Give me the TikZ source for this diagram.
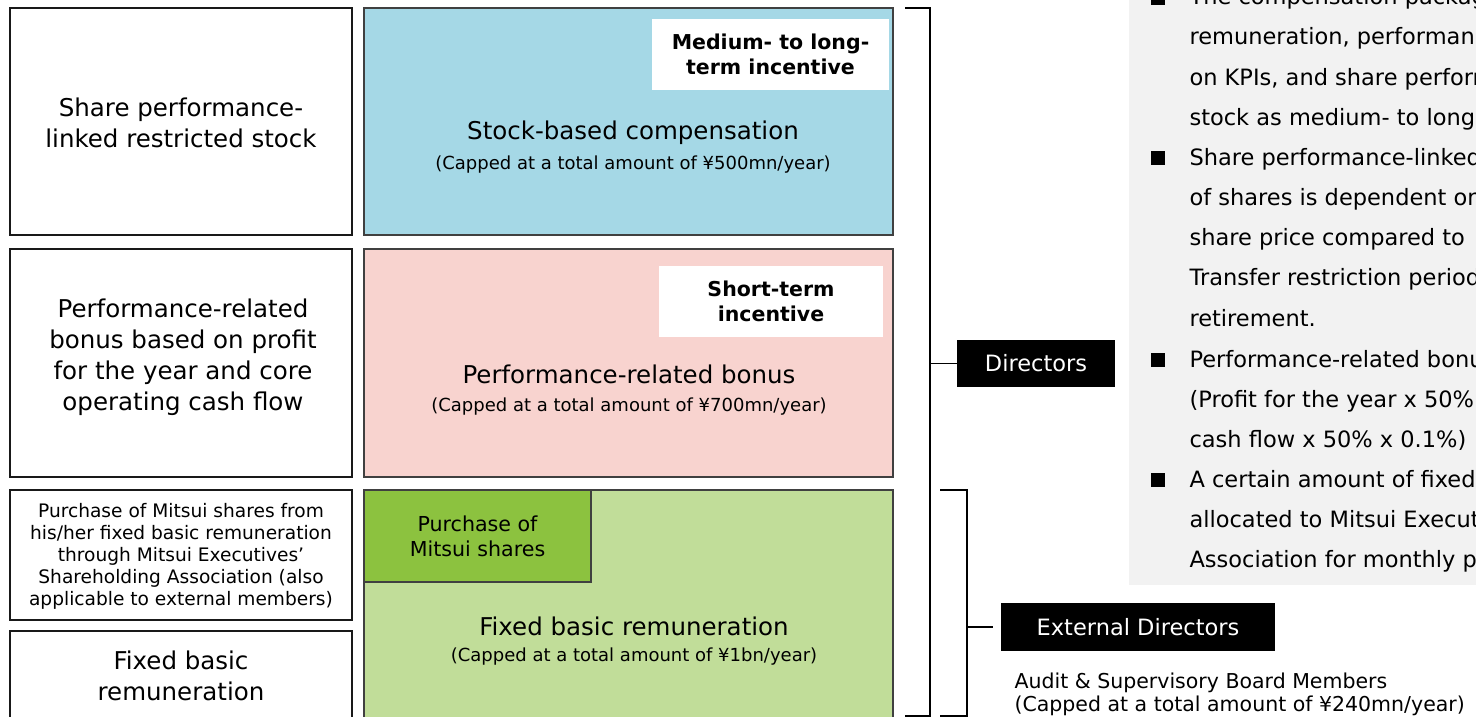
\documentclass[tikz,border=0pt]{standalone}
\usepackage{fontspec}
\setmainfont{DejaVu Sans}
\definecolor{stockblue}{HTML}{A5D8E6}
\definecolor{bonuspink}{HTML}{F8D3CF}
\definecolor{fixedgreen}{HTML}{C1DD99}
\definecolor{buygreen}{HTML}{8CC23F}
\definecolor{panelgrey}{HTML}{F2F2F2}
\newcommand{\fsz}[2]{\fontsize{#1}{#2}\selectfont}

\begin{document}
\begin{tikzpicture}[x=1pt, y=-1pt,
		lb/.style   = {rectangle, draw=black!90,	fill=white,	line width=1.5pt, inner sep=0},
		mb/.style   = {rectangle, draw=black!75,			line width=1.5pt, inner sep=0},
		wl/.style   = {rectangle, fill=white, inner sep=0, align=center, font=\bfseries\fsz{20.5}{25}},
		bl/.style   = {rectangle, fill=black, text=white, inner sep=0, font=\fsz{22.5}{27}},
		big/.style  = {align=center, font=\fsz{24.5}{31}},
		capd/.style = {font=\fsz{18}{22}},
		br/.style   = {line width=1.5pt, black},
		tx/.style   = {anchor=base west, font=\fsz{22.5}{40}},
		bul/.style  = {rectangle, fill=black, inner sep=0, minimum size=14},
		]
		\useasboundingbox (0,0) rectangle (1476,717);
		\clip (0,0) rectangle (1476,717);

		% === === Left column === ===
		\node[lb, minimum width=342, minimum height=227]	(lstock)	at	(181, 121.5)	{};
		\node[lb, minimum width=342, minimum height=228]	(lbonus)	at	(181, 363)		{};
		\node[lb, minimum width=342, minimum height=130]	(lbuy)		at	(181, 555)		{};
		\node[lb, minimum width=342, minimum height=130]	(lfixed)	at	(181, 696)		{};

		\node[big]	(lstockt)	at	(181, 123)	{Share performance-\\linked restricted stock};
		\node[big]	(lbonust)	at	(183, 357)	{Performance-related\\bonus based on profit\\for the year and core\\operating cash flow};
		\node[align=center, font=\fsz{18.6}{22}]	(lbuyt)	at	(181, 556)	{Purchase of Mitsui shares from\\his/her fixed basic remuneration\\through Mitsui Executives’\\Shareholding Association (also\\applicable to external members)};
		\node[big]	(lfixedt)	at	(181, 676)	{Fixed basic\\remuneration};

		% === === Middle column === ===
		\node[mb, fill=stockblue,  minimum width=529, minimum height=227]	(stock)	at	(628.5, 121.5)	{};
		\node[mb, fill=bonuspink,  minimum width=529, minimum height=228]	(bonus)	at	(628.5, 363)	{};
		\node[mb, fill=fixedgreen, minimum width=529, minimum height=250]	(fixed)	at	(628.5, 615)	{};

		\node[wl, minimum width=237, minimum height=71]	(midlong)	at	(770.5, 54.5)	{Medium- to long-\\term incentive};
		\node[wl, minimum width=224, minimum height=71]	(short)		at	(771, 301.5)	{Short-term\\incentive};
		\node[mb, fill=buygreen, minimum width=227, minimum height=92, align=center, font=\fsz{20.6}{25}]	(buy)	at	(477.5, 536)	{Purchase of\\Mitsui shares};

		\node[font=\fsz{24.5}{31}]	(stockt)	at	(633, 133)	{Stock-based compensation};
		\node[capd]					(stockc)	at	(633, 165)	{(Capped at a total amount of ¥500mn/year)};
		\node[font=\fsz{24.5}{31}]	(bonust)	at	(629, 374)	{Performance-related bonus};
		\node[capd]					(bonusc)	at	(629, 407)	{(Capped at a total amount of ¥700mn/year)};
		\node[font=\fsz{24.5}{31}]	(fixedt)	at	(634, 626)	{Fixed basic remuneration};
		\node[capd]					(fixedc)	at	(634, 657)	{(Capped at a total amount of ¥1bn/year)};

		% === === Brackets === ===
		\node[bl, minimum width=158, minimum height=47]	(dir)	at	(1036, 363.5)	{Directors};
		\node[bl, minimum width=274, minimum height=48]	(ext)	at	(1138, 627)		{External Directors};

		\coordinate	(dtop)	at	(905, 8);
		\coordinate	(dbot)	at	(905, 716);
		\coordinate	(etop)	at	(940, 490);
		\coordinate	(ebot)	at	(940, 716);

		\draw[br]	(dtop)	-|	(930, 716)	--	(dbot);
		\draw[br]	(930, 363.5)	--	(dir.west);
		\draw[br]	(etop)	-|	(967, 716)	--	(ebot);
		\draw[br]	(967, 627)	--	(993, 627);

		\node[anchor=west, align=left, font=\fsz{20.5}{23}]	(audit)	at	(1011, 694.5)	{Audit \& Supervisory Board Members\\(Capped at a total amount of ¥240mn/year)};

		% === === Notes panel === ===
		\fill[panelgrey]	(1129, -20)	rectangle	(1520, 585);

		\foreach \y/\t [count=\i] in {
			5/{The compensation package},
			45/{remuneration, performance},
			85/{on KPIs, and share performance},
			125/{stock as medium- to long-term},
			165/{Share performance-linked},
			205/{of shares is dependent on},
			245/{share price compared to},
			285/{Transfer restriction period},
			326/{retirement.},
			367/{Performance-related bonus},
			407/{(Profit for the year x 50\%},
			447/{cash flow x 50\% x 0.1\%)},
			487/{A certain amount of fixed},
			527/{allocated to Mitsui Executives’},
			567/{Association for monthly purchase}}
			\node[tx]	(n\i)	at	(1186, \y)	{\t};

		\node[bul]	(b1)	at	(1157.5, -2)	{};
		\node[bul]	(b2)	at	(1157.5, 158)	{};
		\node[bul]	(b3)	at	(1157.5, 360)	{};
		\node[bul]	(b4)	at	(1157.5, 480)	{};

	\end{tikzpicture}
\end{document}
